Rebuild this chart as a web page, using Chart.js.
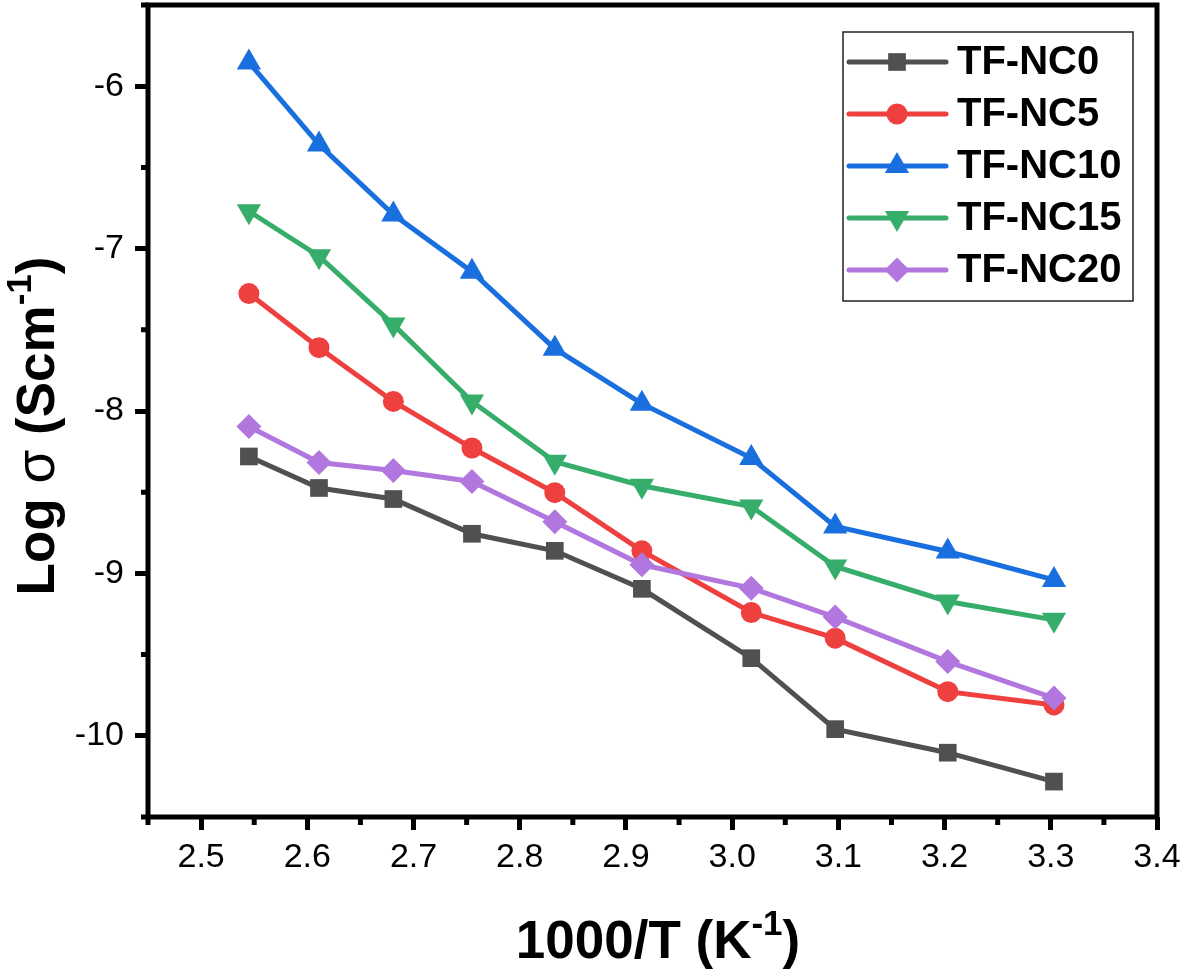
<!DOCTYPE html>
<html><head><meta charset="utf-8">
<script src="https://cdn.jsdelivr.net/npm/chart.js@4.4.1/dist/chart.umd.min.js"></script>
<style>html,body{margin:0;padding:0;background:#fff;overflow:hidden}#wrap{width:1184px;height:972px}</style>
</head><body><div id="wrap"><canvas id="c" width="1184" height="972"></canvas></div>
<script>
// ---- data ----
const xValues = [2.545, 2.611, 2.681, 2.755, 2.833, 2.915, 3.018, 3.097, 3.203, 3.303];
const seriesNames = ['TF-NC0', 'TF-NC5', 'TF-NC10', 'TF-NC15', 'TF-NC20'];
const nc0  = [-8.280, -8.474, -8.542, -8.756, -8.861, -9.095, -9.522, -9.959, -10.104, -10.282];
const nc5  = [-7.277, -7.610, -7.941, -8.228, -8.503, -8.861, -9.241, -9.399, -9.728, -9.810];
const nc10 = [-5.854, -6.359, -6.790, -7.142, -7.616, -7.955, -8.290, -8.711, -8.865, -9.040];
const nc15 = [-6.770, -7.047, -7.468, -7.941, -8.312, -8.460, -8.588, -8.957, -9.173, -9.286];
const nc20 = [-8.095, -8.317, -8.366, -8.434, -8.682, -8.947, -9.091, -9.269, -9.543, -9.768];
const xTickValues = [2.5, 2.6, 2.7, 2.8, 2.9, 3.0, 3.1, 3.2, 3.3, 3.4];
const yTickValues = [-10, -9, -8, -7, -6];
const xMinorTicks = [2.45, 2.55, 2.65, 2.75, 2.85, 2.95, 3.05, 3.15, 3.25, 3.35];
const yMinorTicks = [-10.5, -9.5, -8.5, -7.5, -6.5, -5.5];
const xTitle = ['1000/T (K', '-1', ')'];
const yTitle = ['Log ', 'σ', ' (Scm', '-1', ')'];

// ---- styles ----
const FONT = '"Liberation Sans", Arial, Helvetica, sans-serif';
const seriesValues = [nc0, nc5, nc10, nc15, nc20];
const styles = [
  {color: '#505050', pointStyle: 'rect', radius: 12.5, rotation: 0},
  {color: '#ef4040', pointStyle: 'circle', radius: 10.5, rotation: 0},
  {color: '#1a6fdf', pointStyle: 'triangle', radius: 14, rotation: 0},
  {color: '#37ad6b', pointStyle: 'triangle', radius: 14, rotation: 180},
  {color: '#b177de', pointStyle: 'rectRot', radius: 12.5, rotation: 0}
];

const datasets = seriesNames.map((name, i) => ({
  label: name,
  data: xValues.map((x, j) => ({x: x, y: seriesValues[i][j]})),
  borderColor: styles[i].color,
  backgroundColor: styles[i].color,
  pointBackgroundColor: styles[i].color,
  pointBorderColor: styles[i].color,
  pointBorderWidth: 0,
  pointStyle: styles[i].pointStyle,
  pointRadius: styles[i].radius,
  pointRotation: styles[i].rotation,
  borderWidth: 5,
  tension: 0,
  order: seriesNames.length - i,
  clip: false
}));

function drawMarker(ctx, st, x, y) {
  ctx.fillStyle = st.color;
  if (Chart.helpers && Chart.helpers.drawPoint) {
    Chart.helpers.drawPoint(ctx, {pointStyle: st.pointStyle, radius: st.radius, rotation: st.rotation, borderWidth: 0}, x, y);
  } else {
    ctx.beginPath(); ctx.arc(x, y, st.radius, 0, Math.PI * 2); ctx.fill();
  }
}

function drawRich(ctx, segs, cx, by, angle) {
  ctx.save();
  ctx.translate(cx, by); ctx.rotate(angle);
  let total = 0;
  segs.forEach(s => { ctx.font = s.font; s.w = ctx.measureText(s.t).width; total += s.w; });
  let x = -total / 2;
  ctx.textAlign = 'left'; ctx.textBaseline = 'alphabetic'; ctx.fillStyle = '#000';
  segs.forEach(s => { ctx.font = s.font; ctx.fillText(s.t, x, -(s.dy || 0)); x += s.w; });
  ctx.restore();
}

const zeroPad = () => ({left: 0, top: 0, right: 0, bottom: 0});

const decorPlugin = {
  id: 'decor',
  afterDraw(chart) {
    const ctx = chart.ctx, a = chart.chartArea, xs = chart.scales.x, ys = chart.scales.y;
    ctx.save();
    // minor ticks
    ctx.strokeStyle = '#000'; ctx.lineWidth = 5; ctx.lineCap = 'butt';
    ctx.beginPath();
    xMinorTicks.forEach(v => { const p = xs.getPixelForValue(v); ctx.moveTo(p, a.bottom); ctx.lineTo(p, a.bottom + 8); });
    yMinorTicks.forEach(v => { const p = ys.getPixelForValue(v); ctx.moveTo(a.left, p); ctx.lineTo(a.left - 7, p); });
    ctx.stroke();
    // frame
    ctx.lineWidth = 5;
    ctx.strokeRect(a.left, a.top, a.right - a.left, a.bottom - a.top);
    // legend
    const lx = 843, ly = 32, lw = 290, lh = 269;
    ctx.fillStyle = '#fff'; ctx.fillRect(lx, ly, lw, lh);
    ctx.lineWidth = 1.5; ctx.strokeStyle = '#222';
    ctx.strokeRect(lx, ly, lw, lh);
    seriesNames.forEach((name, i) => {
      const y = 62 + i * 52;
      const st = styles[i];
      ctx.strokeStyle = st.color; ctx.lineWidth = 5; ctx.lineCap = 'round';
      ctx.beginPath(); ctx.moveTo(849, y); ctx.lineTo(946, y); ctx.stroke();
      drawMarker(ctx, st, 897, y);
      ctx.fillStyle = '#000'; ctx.font = 'bold 40px ' + FONT;
      ctx.textAlign = 'left'; ctx.textBaseline = 'middle';
      ctx.fillText(name, 957, y + 1);
    });
    // axis titles
    const big = 'bold 53px ' + FONT, sup = 'bold 35px ' + FONT;
    drawRich(ctx, [
      {t: xTitle[0], font: big}, {t: xTitle[1], font: sup, dy: 23}, {t: xTitle[2], font: big}
    ], 658, 958, 0);
    drawRich(ctx, [
      {t: yTitle[0], font: big}, {t: yTitle[1], font: '55px ' + FONT}, {t: yTitle[2], font: big},
      {t: yTitle[3], font: sup, dy: 23}, {t: yTitle[4], font: big}
    ], 54, 426, -Math.PI / 2);
    ctx.restore();
  }
};

new Chart(document.getElementById('c'), {
  type: 'line',
  data: {datasets: datasets},
  options: {
    responsive: false,
    devicePixelRatio: 1,
    animation: false,
    events: [],
    layout: {autoPadding: false, padding: {top: 5, right: 27, left: 0, bottom: 0}},
    plugins: {legend: {display: false}, tooltip: {enabled: false}, title: {display: false}},
    scales: {
      x: {
        type: 'linear', min: 2.45, max: 3.4,
        afterBuildTicks: s => { s.ticks = xTickValues.map(v => ({value: v})); },
        afterFit: s => { s.height = 155; s.paddingLeft = 0; s.paddingRight = 0; s.getPadding = zeroPad; },
        border: {display: false},
        grid: {display: true, drawOnChartArea: false, drawTicks: true, tickLength: 13, tickWidth: 5, tickColor: '#000', color: '#000'},
        ticks: {color: '#000', font: {family: FONT, size: 34}, padding: 7, maxRotation: 0, autoSkip: false,
          callback: v => Number(v).toFixed(1)}
      },
      y: {
        type: 'linear', min: -10.5, max: -5.5,
        afterBuildTicks: s => { s.ticks = yTickValues.map(v => ({value: v})); },
        afterFit: s => { s.width = 148; s.paddingTop = 0; s.paddingBottom = 0; s.getPadding = zeroPad; },
        border: {display: false},
        grid: {display: true, drawOnChartArea: false, drawTicks: true, tickLength: 13, tickWidth: 5, tickColor: '#000', color: '#000'},
        ticks: {color: '#000', font: {family: FONT, size: 34}, padding: 11, autoSkip: false,
          callback: v => String(v)}
      }
    }
  },
  plugins: [decorPlugin]
});
</script>
</body></html>
